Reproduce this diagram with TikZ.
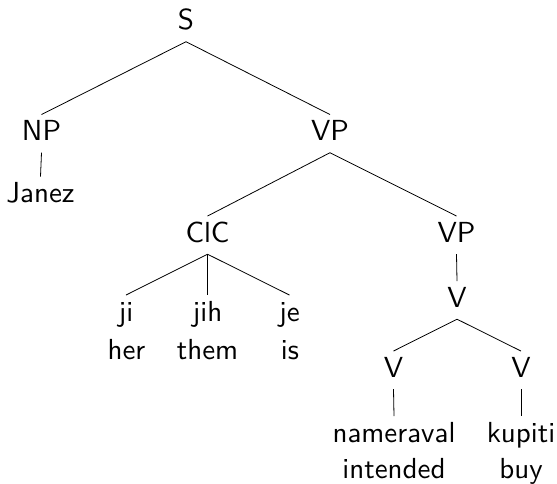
\documentclass[tikz,border=0pt]{standalone}
\usepackage{fontspec}
\newfontfamily\lmsten{lmsans10-regular.otf}
\begin{document}
\begin{tikzpicture}[x=1pt,y=-1pt,
  lab/.style={anchor=base,inner sep=4pt,text height=21.75pt,text depth=8pt,
    font=\lmsten\fontsize{29}{37.5}\selectfont},
  gloss/.style={anchor=base,inner sep=0pt,font=\lmsten\fontsize{29}{37.5}\selectfont},
  edge/.style={line width=0.8pt,black}]
\useasboundingbox (0,0) rectangle (557,483);
\node[lab] (S) at (186,29.5) {S};
\node[lab] (NP) at (41.5,140.5) {NP};
\node[lab] (VP) at (330,140.5) {VP};
\node[lab] (Janez) at (40.5,202.5) {Janez};
\node[lab] (ClC) at (207.5,242) {ClC};
\node[lab] (VP2) at (456.5,242) {VP};
\node[lab] (Vm) at (457,307) {V};
\node[lab] (ji) at (126,321) {ji};
\node[lab] (jih) at (207.5,321) {jih};
\node[lab] (je) at (289.5,321) {je};
\node[gloss] (her) at (126.5,359) {her};
\node[gloss] (them) at (207.5,359) {them};
\node[gloss] (is) at (290,359) {is};
\node[lab] (Vl) at (393.5,377) {V};
\node[lab] (Vr) at (521,377) {V};
\node[lab] (nam) at (394,442) {nameraval};
\node[lab] (kup) at (521,442) {kupiti};
\node[gloss] (int) at (394,478) {intended};
\node[gloss] (buy) at (521,478) {buy};
\draw[edge] (S.south) -- (NP.north);
\draw[edge] (S.south) -- (VP.north);
\draw[edge] (NP.south) -- (Janez.north);
\draw[edge] (VP.south) -- (ClC.north);
\draw[edge] (VP.south) -- (VP2.north);
\draw[edge] (ClC.south) -- (ji.north);
\draw[edge] (ClC.south) -- (jih.north);
\draw[edge] (ClC.south) -- (je.north);
\draw[edge] (VP2.south) -- (Vm.north);
\draw[edge] (Vm.south) -- (Vl.north);
\draw[edge] (Vm.south) -- (Vr.north);
\draw[edge] (Vl.south) -- (nam.north);
\draw[edge] (Vr.south) -- (kup.north);
\end{tikzpicture}
\end{document}
